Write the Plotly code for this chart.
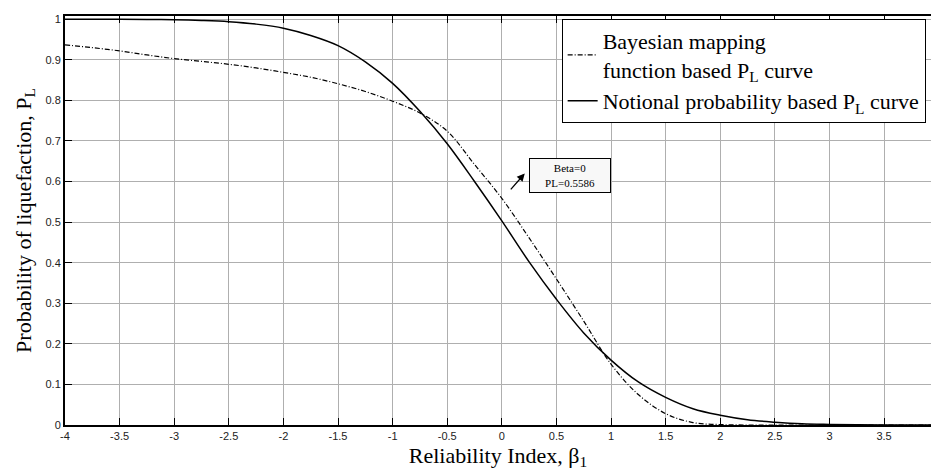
import plotly.graph_objects as go

# Reliability index values
beta = [-4, -3.75, -3.5, -3.25, -3, -2.75, -2.5, -2.25, -2, -1.75, -1.5, -1.25, -1,
        -0.75, -0.5, -0.25, 0, 0.25, 0.5, 0.75, 1, 1.25, 1.5, 1.75, 2, 2.25, 2.5,
        2.75, 3, 3.25, 3.5, 3.75, 3.93]

# Notional probability based PL curve (solid)
pl_notional = [1.0, 0.9999, 0.9998, 0.9994, 0.9987, 0.997, 0.994, 0.988, 0.978, 0.96,
               0.935, 0.895, 0.842, 0.773, 0.693, 0.600, 0.503, 0.402, 0.310, 0.227,
               0.160, 0.106, 0.068, 0.040, 0.024, 0.013, 0.007, 0.003, 0.0015, 0.0007,
               0.0003, 0.0001, 0.0]

# Bayesian mapping function based PL curve (dash-dot)
pl_bayes = [0.937, 0.930, 0.922, 0.912, 0.903, 0.896, 0.889, 0.880, 0.869, 0.857,
            0.841, 0.822, 0.798, 0.769, 0.724, 0.642, 0.5586, 0.461, 0.360, 0.256,
            0.150, 0.075, 0.028, 0.006, 0.001, 0.0, 0.0, 0.0, 0.0, 0.0, 0.0, 0.0, 0.0]

x_ticks = [-4, -3.5, -3, -2.5, -2, -1.5, -1, -0.5, 0, 0.5, 1, 1.5, 2, 2.5, 3, 3.5]
x_tick_text = ["-4", "-3.5", "-3", "-2.5", "-2", "-1.5", "-1", "-0.5", "0", "0.5",
               "1", "1.5", "2", "2.5", "3", "3.5"]
y_ticks = [0, 0.1, 0.2, 0.3, 0.4, 0.5, 0.6, 0.7, 0.8, 0.9, 1]
y_tick_text = ["0", "0.1", "0.2", "0.3", "0.4", "0.5", "0.6", "0.7", "0.8", "0.9", "1"]

serif = "Liberation Serif"
sans = "Liberation Sans"

fig = go.Figure()
fig.add_trace(go.Scatter(
    x=beta, y=pl_bayes, mode="lines", line_shape="spline",
    line=dict(color="black", width=1.2, dash="5px,2px,1px,2px"),
    name="Bayesian mapping<br>function based P<sub>L</sub> curve"))
fig.add_trace(go.Scatter(
    x=beta, y=pl_notional, mode="lines", line_shape="spline",
    line=dict(color="black", width=1.5),
    name="Notional probability based P<sub>L</sub> curve"))

# arrow
fig.add_annotation(x=0.21, y=0.62, ax=0.07, ay=0.577, axref="x", ayref="y",
                   xref="x", yref="y", text="", showarrow=True,
                   arrowhead=2, arrowsize=1.2, arrowwidth=1.3, arrowcolor="black")
# text box
fig.add_annotation(x=0.626, y=0.616, xref="x", yref="y", showarrow=False,
                   text="Beta=0<br>PL=0.5586", align="center",
                   font=dict(family=serif, size=11, color="black"),
                   bordercolor="black", borderwidth=1, borderpad=4,
                   bgcolor="#f8f8f8", width=72, height=25)

fig.update_layout(
    width=931, height=475,
    margin=dict(l=65, r=0, t=16, b=50, autoexpand=False),
    paper_bgcolor="white", plot_bgcolor="white",
    showlegend=True,
    legend=dict(x=0.5735, y=0.993, xanchor="left", yanchor="top",
                bgcolor="white", bordercolor="black", borderwidth=1,
                font=dict(family=serif, size=22, color="black"),
                itemwidth=30, tracegroupgap=0, traceorder="normal"),
)
fig.update_xaxes(
    range=[-4, 3.93], tickvals=x_ticks, ticktext=x_tick_text,
    showgrid=True, gridcolor="rgb(175,175,175)", gridwidth=1,
    zeroline=False, showline=True, linecolor="black", linewidth=2, mirror="ticks",
    ticks="inside", ticklen=7, tickcolor="black",
    tickfont=dict(family=sans, size=11, color="#222"),
    title=dict(text="Reliability Index, β<sub>1</sub>", standoff=6,
               font=dict(family=serif, size=22, color="black")))
fig.update_yaxes(
    range=[0, 1.008], tickvals=y_ticks, ticktext=y_tick_text,
    showgrid=True, gridcolor="rgb(175,175,175)", gridwidth=1,
    zeroline=False, showline=True, linecolor="black", linewidth=2,
    ticks="inside", ticklen=7, tickcolor="black",
    tickfont=dict(family=sans, size=11, color="#222"),
    title=dict(text="Probability of liquefaction, P<sub>L</sub>", standoff=8,
               font=dict(family=serif, size=22, color="black")))

fig.write_html("out.html")
